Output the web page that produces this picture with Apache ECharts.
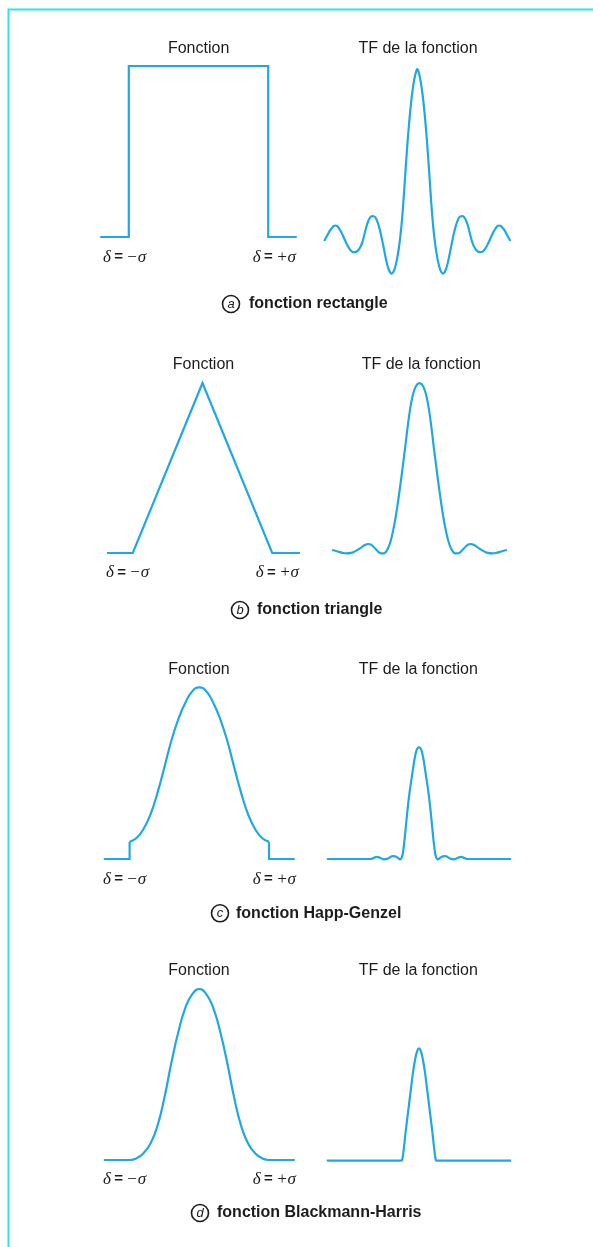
<!DOCTYPE html>
<html><head><meta charset="utf-8">
<script src="https://cdn.jsdelivr.net/npm/echarts@6/dist/echarts.min.js"></script>
<style>html,body{margin:0;padding:0;background:#fff}#c{width:593px;height:1247px}</style>
</head><body><div id="c"></div>
<script>
// ---- data (x in sigma units for the functions, arbitrary units for the transforms) ----
const fnRectangle = [[-1.41,0],[-1,0],[-1,1],[1,1],[1,0],[1.41,0]];
const tfRectangle = [
  [-9.8,0],[-9.6,0.02],[-9.4,0.04],[-9.2,0.06],[-9.0,0.075],[-8.8,0.087],[-8.6,0.09],[-8.4,0.085],[-8.2,0.07],[-7.95,0.045],[-7.7,0.015],[-7.45,-0.015],
  [-7.2,-0.04],[-6.95,-0.058],[-6.7,-0.065],[-6.45,-0.063],[-6.2,-0.052],[-6.0,-0.035],[-5.8,-0.01],[-5.6,0.03],[-5.4,0.075],[-5.2,0.11],[-5.0,0.133],
  [-4.75,0.145],[-4.5,0.142],[-4.3,0.125],[-4.1,0.095],[-3.9,0.055],[-3.7,0.005],[-3.5,-0.05],[-3.3,-0.105],[-3.1,-0.15],[-2.9,-0.178],
  [-2.7,-0.19],[-2.5,-0.178],[-2.3,-0.145],[-2.1,-0.095],[-1.9,-0.025],[-1.7,0.07],[-1.5,0.2],[-1.3,0.36],[-1.1,0.52],[-0.9,0.66],[-0.7,0.78],
  [-0.5,0.875],[-0.3,0.945],[-0.1,0.99],
  [0,1],
  [0.1,0.99],[0.3,0.945],[0.5,0.875],[0.7,0.78],[0.9,0.66],[1.1,0.52],[1.3,0.36],[1.5,0.2],[1.7,0.07],[1.9,-0.025],[2.1,-0.095],[2.3,-0.145],
  [2.5,-0.178],[2.7,-0.19],[2.9,-0.178],[3.1,-0.15],[3.3,-0.105],[3.5,-0.05],[3.7,0.005],[3.9,0.055],[4.1,0.095],[4.3,0.125],[4.5,0.142],
  [4.75,0.145],[5.0,0.133],[5.2,0.11],[5.4,0.075],[5.6,0.03],[5.8,-0.01],[6.0,-0.035],[6.2,-0.052],[6.45,-0.063],[6.7,-0.065],[6.95,-0.058],
  [7.2,-0.04],[7.45,-0.015],[7.7,0.015],[7.95,0.045],[8.2,0.07],[8.4,0.085],[8.6,0.09],[8.8,0.087],[9.0,0.075],[9.2,0.06],[9.4,0.04],[9.6,0.02],[9.8,0]
];
const fnTriangle = [[-1.37,0],[-1,0],[0,1],[1,0],[1.4,0]];
const tfTriangle = [
  [-9.2,0],[-8.7,-0.007],[-8.2,-0.015],[-7.7,-0.02],[-7.2,-0.017],[-6.8,-0.008],[-6.4,0.005],[-6.0,0.02],[-5.7,0.03],[-5.45,0.035],[-5.2,0.033],
  [-4.9,0.022],[-4.6,0.005],[-4.3,-0.012],[-4.0,-0.02],[-3.75,-0.02],[-3.5,-0.008],[-3.25,0.018],[-3.0,0.06],[-2.75,0.12],[-2.5,0.195],
  [-2.25,0.285],[-2.0,0.385],[-1.75,0.49],[-1.5,0.6],[-1.25,0.715],[-1.0,0.815],[-0.75,0.89],[-0.5,0.937],[-0.25,0.962],
  [0,0.97],
  [0.25,0.962],[0.5,0.937],[0.75,0.89],[1.0,0.815],[1.25,0.715],[1.5,0.6],[1.75,0.49],[2.0,0.385],[2.25,0.285],[2.5,0.195],[2.75,0.12],
  [3.0,0.06],[3.25,0.018],[3.5,-0.008],[3.75,-0.02],[4.0,-0.02],[4.3,-0.012],[4.6,0.005],[4.9,0.022],[5.2,0.033],[5.45,0.035],[5.7,0.03],
  [6.0,0.02],[6.4,0.005],[6.8,-0.008],[7.2,-0.017],[7.7,-0.02],[8.2,-0.015],[8.7,-0.007],[9.2,0]
];
const fnHappLeftEdge = [[-1.37,0],[-1,0],[-1,0.1]];
const fnHappCurve = [[-1,0.1],[-0.9,0.122],[-0.8,0.175],[-0.7,0.26],[-0.6,0.385],[-0.5,0.535],[-0.4,0.69],[-0.3,0.815],[-0.2,0.91],[-0.1,0.977],
  [0,1],[0.1,0.977],[0.2,0.91],[0.3,0.815],[0.4,0.69],[0.5,0.535],[0.6,0.385],[0.7,0.26],[0.8,0.175],[0.9,0.122],[1,0.1]];
const fnHappRightEdge = [[1,0.1],[1,0],[1.37,0]];
const tfHapp = [
  [-9.7,0],[-5.1,0],[-4.8,0.005],[-4.45,0.012],[-4.1,0.007],[-3.7,-0.002],[-3.3,0.002],[-3.0,0.012],[-2.75,0.017],[-2.5,0.015],[-2.2,0.006],
  [-2.0,-0.002],[-1.8,0.01],[-1.6,0.075],[-1.4,0.18],[-1.2,0.29],[-1.0,0.385],[-0.8,0.46],[-0.6,0.535],[-0.4,0.6],[-0.2,0.64],
  [0,0.649],
  [0.2,0.64],[0.4,0.6],[0.6,0.535],[0.8,0.46],[1.0,0.385],[1.2,0.29],[1.4,0.18],[1.6,0.075],[1.8,0.01],[2.0,-0.002],
  [2.2,0.006],[2.5,0.015],[2.75,0.017],[3.0,0.012],[3.3,0.002],[3.7,-0.002],[4.1,0.007],[4.45,0.012],[4.8,0.005],[5.1,0],[9.7,0]
];
const fnBlackman = [[-1.37,0],[-1,0],[-0.9,0.01],[-0.8,0.04],[-0.7,0.097],[-0.6,0.2],[-0.5,0.365],[-0.4,0.57],[-0.3,0.75],[-0.2,0.89],[-0.1,0.97],
  [0,1],[0.1,0.97],[0.2,0.89],[0.3,0.75],[0.4,0.57],[0.5,0.365],[0.6,0.2],[0.7,0.097],[0.8,0.04],[0.9,0.01],[1,0],[1.37,0]];
const tfBlackman = [
  [-9.7,0],[-1.85,0],[-1.75,0.01],[-1.6,0.07],[-1.4,0.17],[-1.2,0.26],[-1.0,0.35],[-0.8,0.44],[-0.6,0.525],[-0.4,0.59],[-0.2,0.635],
  [0,0.653],
  [0.2,0.635],[0.4,0.59],[0.6,0.525],[0.8,0.44],[1.0,0.35],[1.2,0.26],[1.4,0.17],[1.6,0.07],[1.75,0.01],[1.85,0],[9.7,0]
];

const panelTitles = ['Fonction', 'TF de la fonction'];
const boundLabels = ['−σ', '+σ'];
const captionLetters = ['a', 'b', 'c', 'd'];
const captionTexts = ['fonction rectangle', 'fonction triangle', 'fonction Happ-Genzel', 'fonction Blackmann-Harris'];

// ---- layout ----
const LINE = '#1fa8e3';
const INK = '#1c1c1c';
const SIG = 69.7;      // px per sigma unit (functions)
const TFX = 9.5;       // px per unit (transforms)
const TFY = 172;       // px per unit (transforms)
const SMOOTH = 0.5;
const panels = [
  {fn:[fnRectangle], fnSmooth:false, tf:tfRectangle, fcx:198.5, fy1:66, fy0:237, tcx:417.3, ty0:241,
   titleY:49, fTitleX:198.6, tTitleX:418, labY:257.3, labL:103, labR:296, capY:304, circX:231, capX:249},
  {fn:[fnTriangle], fnSmooth:false, tf:tfTriangle, fcx:202.5, fy1:383, fy0:553, tcx:419.5, ty0:550,
   titleY:364.3, fTitleX:203.5, tTitleX:421.3, labY:572.7, labL:106, labR:299, capY:610, circX:240, capX:257},
  {fn:[fnHappLeftEdge, fnHappCurve, fnHappRightEdge], fnSmooth:[false, SMOOTH, false], tf:tfHapp, fcx:199.3, fy1:687.3, fy0:859, tcx:419, ty0:859,
   titleY:669.3, fTitleX:199, tTitleX:418.3, labY:879.3, labL:103, labR:296, capY:913.3, circX:220, capX:236},
  {fn:[fnBlackman], fnSmooth:SMOOTH, tf:tfBlackman, fcx:199.3, fy1:989, fy0:1160, tcx:419, ty0:1160.7,
   titleY:970.7, fTitleX:199, tTitleX:418.3, labY:1179.3, labL:103, labR:296, capY:1213, circX:200, capX:217}
];

const grids = [], xAxes = [], yAxes = [], series = [], graphics = [];
panels.forEach((p, i) => {
  const sc = p.fy0 - p.fy1;
  // function grid
  grids.push({left: p.fcx - 1.5*SIG, width: 3*SIG, top: p.fy1 - 0.2*sc, height: 1.4*sc});
  xAxes.push({type:'value', gridIndex: grids.length-1, min:-1.5, max:1.5, show:false});
  yAxes.push({type:'value', gridIndex: grids.length-1, min:-0.2, max:1.2, show:false});
  const gi = grids.length-1;
  p.fn.forEach((d, k) => {
    const sm = Array.isArray(p.fnSmooth) ? p.fnSmooth[k] : p.fnSmooth;
    series.push({type:'line', xAxisIndex:gi, yAxisIndex:gi, data:d, smooth:sm,
      showSymbol:false, clip:false, silent:true, lineStyle:{color:LINE, width:2.2, join:'miter', cap:'butt'}});
  });
  // transform grid
  grids.push({left: p.tcx - 10*TFX, width: 20*TFX, top: p.ty0 - 1.2*TFY, height: 1.6*TFY});
  xAxes.push({type:'value', gridIndex: grids.length-1, min:-10, max:10, show:false});
  yAxes.push({type:'value', gridIndex: grids.length-1, min:-0.4, max:1.2, show:false});
  const gt = grids.length-1;
  series.push({type:'line', xAxisIndex:gt, yAxisIndex:gt, data:p.tf, smooth:SMOOTH,
    showSymbol:false, clip:false, silent:true, lineStyle:{color:LINE, width:2.2}});

  // titles
  graphics.push({type:'text', style:{text:panelTitles[0], x:p.fTitleX, y:p.titleY, align:'center', verticalAlign:'middle',
    fill:INK, fontSize:16, fontFamily:'"Liberation Sans", Arial, sans-serif'}});
  graphics.push({type:'text', style:{text:panelTitles[1], x:p.tTitleX, y:p.titleY, align:'center', verticalAlign:'middle',
    fill:INK, fontSize:16, fontFamily:'"Liberation Sans", Arial, sans-serif'}});
  // bound labels
  const rich = {
    d:{fontFamily:'"Liberation Serif", serif', fontStyle:'italic', fontSize:17, fill:INK},
    e:{fontFamily:'"Liberation Sans", sans-serif', fontWeight:'bold', fontSize:15, fill:INK},
    s:{fontFamily:'"Liberation Serif", serif', fontStyle:'italic', fontSize:17, fill:INK}
  };
  graphics.push({type:'text', style:{text:'{d|δ} {e|=} {s|' + boundLabels[0] + '}', rich, x:p.labL, y:p.labY, align:'left', verticalAlign:'middle'}});
  graphics.push({type:'text', style:{text:'{d|δ} {e|=} {s|' + boundLabels[1] + '}', rich, x:p.labR, y:p.labY, align:'right', verticalAlign:'middle'}});
  // caption
  graphics.push({type:'circle', shape:{cx:p.circX, cy:p.capY, r:8.5}, style:{fill:'none', stroke:INK, lineWidth:1.6}});
  graphics.push({type:'text', style:{text:captionLetters[i], x:p.circX, y:p.capY, align:'center', verticalAlign:'middle',
    fill:INK, fontSize:13, fontStyle:'italic', fontFamily:'"Liberation Sans", Arial, sans-serif'}});
  graphics.push({type:'text', style:{text:captionTexts[i], x:p.capX, y:p.capY, align:'left', verticalAlign:'middle',
    fill:INK, fontSize:16, fontWeight:'bold', fontFamily:'"Liberation Sans", Arial, sans-serif'}});
});
// frame
graphics.push({type:'polyline', shape:{points:[[8.5,1247],[8.5,9.5],[593,9.5]]}, style:{fill:'none', stroke:'#2ee3ea', lineWidth:2}});

const chart = echarts.init(document.getElementById('c'), null, {renderer:'canvas'});
chart.setOption({animation:false, backgroundColor:'#fff', grid:grids, xAxis:xAxes, yAxis:yAxes, series, graphic:graphics});
</script></body></html>
